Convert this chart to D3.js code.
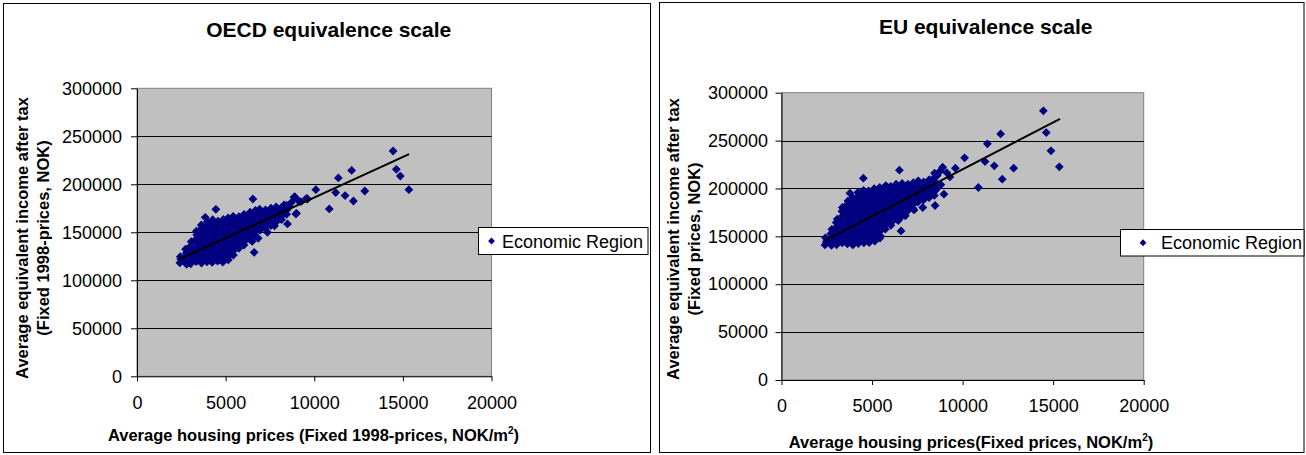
<!DOCTYPE html>
<html><head><meta charset="utf-8">
<script src="https://cdn.jsdelivr.net/npm/d3@7"></script>
<style>
body{margin:0;background:#fff}
svg{display:block}
text{font-family:"Liberation Sans",Arial,sans-serif;fill:#000}
</style>
</head><body>
<svg id="c" width="1306" height="455"></svg>
<script>
const xTicks=[0,5000,10000,15000,20000];
const yTicks=[0,50000,100000,150000,200000,250000,300000];
const seriesName="Economic Region";

const oecdTitle="OECD equivalence scale";
const oecdYTitle=["Average equivalent income after tax","(Fixed 1998-prices, NOK)"];
const oecdXTitle="Average housing prices (Fixed 1998-prices, NOK/m";
const euTitle="EU equivalence scale";
const euYTitle=["Average equivalent income after tax","(Fixed prices, NOK)"];
const euXTitle="Average housing prices(Fixed prices, NOK/m";

const oecdTrend=[[2400,122000],[15350,231500]];
const euTrend=[[2400,145500],[15380,272700]];

const oecdPoints=[
[2420,118200],[2470,121900],[2440,124600],
[2760,119100],[2730,124300],[2780,128500],[2740,132400],[2800,116600],
[3030,117200],[3070,121500],[3040,126700],[3080,130900],[3020,135600],[3060,140200],
[3340,119600],[3370,124000],[3330,128900],[3360,133300],[3390,138100],[3340,143000],[3370,147400],[3350,151100],
[3640,118000],[3660,121800],[3630,126300],[3670,131200],[3650,135700],[3620,140600],[3680,145100],[3640,150000],[3660,154500],[3630,157600],
[3950,119300],[3930,124100],[3970,128700],[3940,133600],[3960,138000],[3920,142900],[3980,147500],[3950,152300],[3930,156800],[3970,161000],
[4240,118600],[4260,121800],[4230,126400],[4270,131000],[4250,135900],[4220,140400],[4280,145300],[4240,149800],[4260,154700],[4230,159200],[4270,163100],
[4550,120100],[4530,124000],[4570,128800],[4540,133400],[4560,138200],[4520,142800],[4580,147600],[4550,152200],[4530,157000],[4570,161500],
[4840,118900],[4860,121700],[4830,126500],[4870,131100],[4850,135700],[4820,140600],[4880,145200],[4840,149800],[4860,154600],[4830,159400],[4870,163400],
[5150,121200],[5130,124100],[5170,128700],[5140,133500],[5160,138100],[5120,142900],[5180,147500],[5150,152300],[5130,156900],[5170,161600],[5140,165000],
[5440,126300],[5460,131100],[5430,135900],[5470,140500],[5450,145100],[5420,150000],[5480,154500],[5440,159300],[5460,164000],[5430,166600],
[5750,133400],[5730,138200],[5770,142800],[5740,147600],[5760,152200],[5720,157000],[5780,161600],[5750,166300],
[6040,136700],[6060,140500],[6030,145200],[6070,149900],[6050,154600],[6020,159300],[6080,164000],[6040,168700],
[6350,142900],[6330,147500],[6370,152300],[6340,156900],[6360,161700],[6320,166300],[6380,171000],
[6640,146900],[6660,149900],[6630,154600],[6670,159300],[6650,164000],[6620,168700],[6680,172700],
[6950,152200],[6930,157000],[6970,161600],[6940,166400],[6960,171000],[6920,174100],
[7240,154600],[7260,159300],[7230,164000],[7270,168700],[7250,173400],
[7550,157000],[7530,161600],[7570,166400],[7540,171000],[7560,175100],
[7840,160500],[7860,164000],[7830,168700],[7870,173400],[7850,176400],
[8150,163100],[8130,166400],[8170,171000],[8140,175700],
[8440,168700],[8460,173400],[8430,178100],
[14450,234700],[14630,215600],[14855,208600],[15340,194400],[12110,214500],[11360,206600],[12850,193000],
[11210,191400],[11740,188300],[12210,182600],[10850,174300],[10090,194400],[9620,184700],[8860,186400],
[9090,183000],[8960,169100],[8490,158700],[7760,156600],[7360,150000],[6840,143700],[6500,140600],
[6610,129100],[6540,184700],[4450,173900],[3850,165600],[8900,187100],[9560,185400],[9000,169800],
[8700,181000],[8300,178500],[9250,182000],[8600,176500]
];

const euPoints=[
[2400,141000],[2480,144500],[2430,148500],
[2760,140700],[2740,143400],[2770,148100],[2730,152700],[2780,157300],
[3040,141100],[3060,145600],[3030,150500],[3070,155000],[3050,159900],[3020,164400],[3080,168000],
[3350,143300],[3330,148100],[3370,152800],[3340,157400],[3360,162200],[3320,166800],[3380,171600],[3340,176200],[3360,180100],
[3640,142100],[3660,145700],[3630,150500],[3670,155000],[3650,159900],[3620,164400],[3680,169200],[3640,173900],[3660,178700],[3630,183300],[3670,186900],
[3940,141000],[3950,143300],[3930,148100],[3970,152800],[3940,157400],[3960,162200],[3920,166800],[3980,171600],[3950,176200],[3930,181000],[3970,185600],[3940,190300],
[4240,142500],[4260,145700],[4230,150500],[4270,155100],[4250,159800],[4220,164500],[4280,169200],[4240,173900],[4260,178600],[4230,183300],[4270,188000],[4250,192700],[4220,196000],
[4550,143300],[4530,148100],[4570,152700],[4540,157500],[4560,162100],[4520,166900],[4580,171500],[4550,176300],[4530,180900],[4570,185700],[4540,190300],[4560,195100],[4530,198000],
[4840,143500],[4860,145700],[4830,150400],[4870,155100],[4850,159800],[4820,164500],[4880,169200],[4840,173900],[4860,178600],[4830,183300],[4870,188000],[4850,192700],[4820,197400],
[5150,145000],[5130,148000],[5170,152800],[5140,157400],[5160,162200],[5120,166800],[5180,171600],[5150,176200],[5130,181000],[5170,185600],[5140,190400],[5160,195000],[5120,199700],
[5440,148200],[5460,150400],[5430,155100],[5470,159800],[5450,164500],[5420,169200],[5480,173900],[5440,178600],[5460,183300],[5430,188000],[5470,192700],[5450,197400],[5420,201000],
[5730,157500],[5770,162100],[5740,166900],[5760,171500],[5720,176300],[5780,180900],[5750,185700],[5730,190300],[5770,195100],[5740,199700],[5760,203000],
[6040,161500],[6060,164500],[6030,169200],[6070,173900],[6050,178600],[6020,183300],[6080,188000],[6040,192700],[6060,197400],[6030,202100],
[6350,168000],[6330,171500],[6370,176300],[6340,180900],[6360,185700],[6320,190300],[6380,195100],[6350,199700],[6330,204400],
[6640,171000],[6660,173900],[6630,178600],[6670,183300],[6650,188000],[6620,192700],[6680,197400],[6640,202100],[6660,205200],
[6950,176300],[6930,180900],[6970,185700],[6940,190300],[6960,195100],[6920,199700],[6980,204400],
[7240,179500],[7260,183300],[7230,188000],[7270,192700],[7250,197400],[7220,202100],[7280,206000],
[7530,185700],[7570,190300],[7540,195100],[7560,199700],[7520,204400],[7550,208000],
[7840,188000],[7860,192700],[7830,197400],[7870,202100],[7850,206800],
[8150,190400],[8130,195000],[8170,199700],[8140,204400],[8160,209200],
[8440,192700],[8460,197400],[8430,202100],[8470,206800],[8450,211500],
[14460,281100],[14620,258400],[14880,239300],[15340,222600],[12100,257000],[11370,246600],[12820,221200],
[11750,223600],[11240,228100],[12190,209700],[10870,201000],[10110,232000],[9600,221200],[8900,222200],
[9120,216600],[8970,194000],[8550,199200],[8480,182200],[7800,180100],[7320,177600],[6840,171400],
[6450,166500],[6600,155700],[6510,219100],[4520,210700],[3780,195100],[8450,216000],[8750,218000],
[8600,213500],[9300,212000],[8800,204000]
];

const svg=d3.select("#c");
const diamond=r=>`M0,${-r}L${r},0L0,${r}L${-r},0Z`;

function drawPanel(cfg){
  const g=svg.append("g");
  g.append("rect").attr("x",cfg.box[0]).attr("y",cfg.box[1]).attr("width",cfg.box[2]).attr("height",cfg.box[3])
    .attr("fill","#fff").attr("stroke","#000").attr("stroke-width",1);

  const x=d3.scaleLinear().domain([0,20000]).range([cfg.left,cfg.right]);
  const y=d3.scaleLinear().domain([0,300000]).range([cfg.bottom,cfg.top]);

  g.append("rect").attr("x",cfg.left).attr("y",cfg.top).attr("width",cfg.right-cfg.left).attr("height",cfg.bottom-cfg.top)
    .attr("fill","#c0c0c0").attr("stroke","#808080").attr("stroke-width",1);

  g.append("g").selectAll("line").data(yTicks.filter(v=>v>0&&v<300000)).join("line")
    .attr("x1",cfg.left).attr("x2",cfg.right).attr("y1",d=>Math.round(y(d))+0.5).attr("y2",d=>Math.round(y(d))+0.5)
    .attr("stroke","#000").attr("stroke-width",1);

  const ya=g.append("g").attr("transform",`translate(${cfg.left},0)`)
    .call(d3.axisLeft(y).tickValues(yTicks).tickSize(6).tickSizeOuter(0).tickPadding(cfg.yPad).tickFormat(d3.format("d")));
  const xa=g.append("g").attr("transform",`translate(0,${cfg.bottom})`)
    .call(d3.axisBottom(x).tickValues(xTicks).tickSize(5).tickSizeOuter(0).tickPadding(14.5).tickFormat(d3.format("d")));
  [ya,xa].forEach(a=>{
    a.selectAll("path.domain").attr("stroke","#000");
    a.selectAll(".tick line").attr("stroke","#000");
    a.selectAll(".tick text").attr("font-size",18).attr("font-family",'"Liberation Sans",Arial,sans-serif').attr("fill","#000");
  });

  g.append("g").selectAll("path").data(cfg.points).join("path")
    .attr("d",diamond(4.4))
    .attr("transform",d=>`translate(${x(d[0])},${y(d[1])})`)
    .attr("fill","#000080");

  g.append("path").datum(cfg.trend)
    .attr("d",d3.line().x(d=>x(d[0])).y(d=>y(d[1])))
    .attr("stroke","#000").attr("stroke-width",2).attr("fill","none");

  g.append("text").attr("x",cfg.titlePos[0]).attr("y",cfg.titlePos[1]).attr("text-anchor","middle")
    .attr("font-size",21).attr("font-weight","bold").text(cfg.title);

  cfg.yTitle.forEach((t,i)=>{
    g.append("text").attr("transform",`translate(${cfg.yTitleX[i]},${cfg.yTitleY}) rotate(-90)`)
      .attr("text-anchor","middle").attr("font-size",16.5).attr("font-weight","bold").text(t);
  });

  const xt=g.append("text").attr("x",cfg.xTitlePos[0]).attr("y",cfg.xTitlePos[1]).attr("text-anchor","middle")
    .attr("font-size",16.5).attr("font-weight","bold");
  xt.append("tspan").text(cfg.xTitle);
  xt.append("tspan").attr("dy",-7).attr("font-size",10).text("2");
  xt.append("tspan").attr("dy",7).text(")");

  const lg=g.append("g");
  lg.append("rect").attr("x",cfg.legend[0]).attr("y",cfg.legend[1]).attr("width",cfg.legend[2]).attr("height",cfg.legend[3])
    .attr("fill","#fff").attr("stroke","#000").attr("stroke-width",1);
  lg.append("path").attr("d",diamond(3.4)).attr("fill","#000080")
    .attr("transform",`translate(${cfg.legendMarker},${cfg.legend[1]+cfg.legend[3]/2})`);
  lg.append("text").attr("x",cfg.legendText).attr("y",cfg.legend[1]+cfg.legend[3]/2+6.5)
    .attr("font-size",18).text(seriesName);
}

drawPanel({
  box:[3.5,3.5,647,449],
  left:137,right:491.5,top:88.3,bottom:376.3,yPad:9,
  points:oecdPoints,trend:oecdTrend,
  title:oecdTitle,titlePos:[328.7,36.8],
  yTitle:oecdYTitle,yTitleX:[28,49],yTitleY:238,
  xTitle:oecdXTitle,xTitlePos:[313.5,441],
  legend:[478.5,227.5,169.5,27],legendMarker:491.5,legendText:502
});
drawPanel({
  box:[659.5,2.5,644.5,450],
  left:781.5,right:1143.7,top:92.7,bottom:380,yPad:7.5,
  points:euPoints,trend:euTrend,
  title:euTitle,titlePos:[985.7,34.2],
  yTitle:euYTitle,yTitleX:[679,700],yTitleY:239,
  xTitle:euXTitle,xTitlePos:[971,447.5],
  legend:[1120.5,229.5,183.5,26.5],legendMarker:1143,legendText:1161
});
</script>
</body></html>
